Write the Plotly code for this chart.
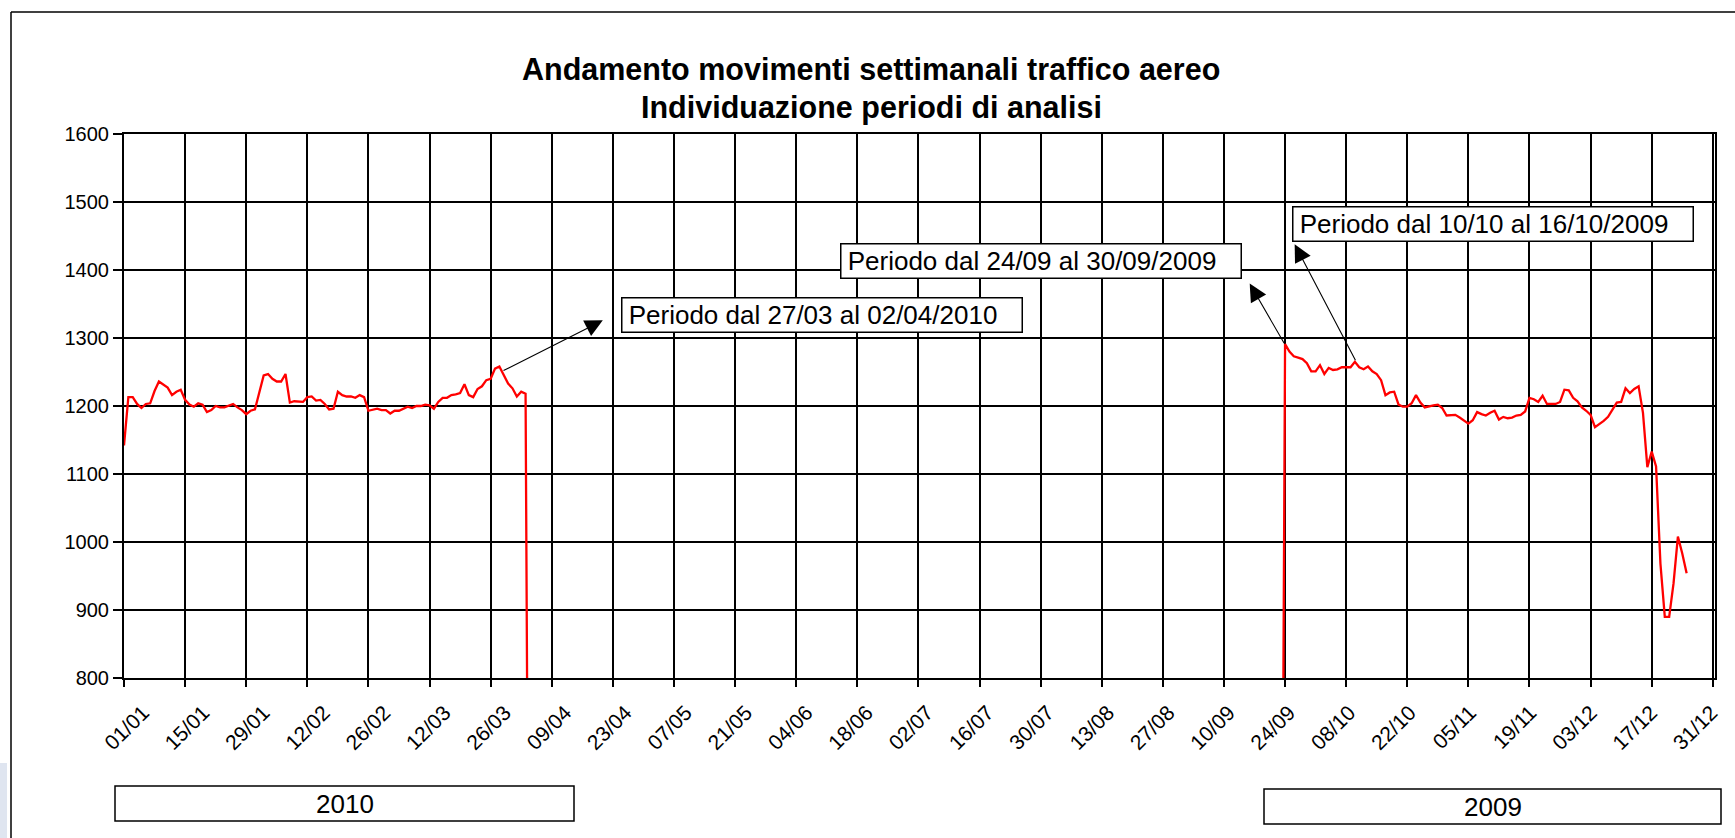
import plotly.graph_objects as go

# ---------------- data ----------------
# x axis: day of the year (0 = 01/01), ticks every 14 days
tick_labels = ["01/01", "15/01", "29/01", "12/02", "26/02", "12/03", "26/03", "09/04",
               "23/04", "07/05", "21/05", "04/06", "18/06", "02/07", "16/07", "30/07",
               "13/08", "27/08", "10/09", "24/09", "08/10", "22/10", "05/11", "19/11",
               "03/12", "17/12", "31/12"]
tick_days = [14 * i for i in range(len(tick_labels))]

# 2010 weekly movements, daily from 01/01 (last value = series drop)
start_2010 = 0
vals_2010 = [1142, 1213, 1213, 1203, 1197, 1203, 1204, 1222, 1236, 1231,
             1227, 1216, 1221, 1224, 1209, 1202, 1199, 1204, 1202, 1191,
             1194, 1200, 1198, 1198, 1201, 1203, 1198, 1194, 1188, 1193,
             1195, 1222, 1245, 1247, 1240, 1236, 1236, 1247, 1205, 1207,
             1207, 1206, 1213, 1214, 1208, 1209, 1203, 1195, 1196, 1221,
             1216, 1214, 1214, 1212, 1216, 1213, 1193, 1195, 1196, 1194,
             1194, 1189, 1193, 1193, 1196, 1199, 1197, 1200, 1200, 1202,
             1201, 1196, 1206, 1212, 1212, 1216, 1217, 1219, 1232, 1216,
             1213, 1225, 1229, 1238, 1240, 1255, 1258, 1245, 1233, 1226,
             1214, 1221, 1218, 0]

# 2009 weekly movements, daily from 23/09 (first value = series start jump)
start_2009 = 265
vals_2009 = [0, 1291, 1280, 1273, 1271, 1269, 1263, 1251, 1251, 1260, 1247,
             1256, 1253, 1254, 1257, 1257, 1257, 1265, 1257, 1254, 1258,
             1251, 1247, 1238, 1216, 1220, 1221, 1202, 1199, 1199, 1204,
             1216, 1205, 1198, 1200, 1201, 1202, 1197, 1186, 1186, 1187,
             1183, 1179, 1174, 1179, 1191, 1188, 1186, 1190, 1193, 1180,
             1184, 1182, 1183, 1186, 1187, 1192, 1212, 1210, 1206, 1215,
             1203, 1203, 1203, 1206, 1224, 1223, 1212, 1207, 1198, 1193,
             1187, 1169, 1173, 1178, 1184, 1195, 1205, 1206, 1226, 1219,
             1225, 1229, 1190, 1110, 1133, 1111, 968, 890, 890, 939,
             1008, 983, 954]

title_lines = ["Andamento movimenti settimanali traffico aereo",
               "Individuazione periodi di analisi"]
notes = ["Periodo dal 27/03 al 02/04/2010",
         "Periodo dal 24/09 al 30/09/2009",
         "Periodo dal 10/10 al 16/10/2009"]
year_labels = ["2010", "2009"]

x_2010 = [start_2010 + i for i in range(len(vals_2010))]
x_2009 = [start_2009 + i for i in range(len(vals_2009))]

# ---------------- figure ----------------
W, H = 1735, 838
ML, MR, MT, MB = 124, 20, 134, 160
PW = W - ML - MR
PH = H - MT - MB


def px(xp):
    return (xp - ML) / PW


def py(yp):
    return (H - MB - yp) / PH


FONT = "Arial, Liberation Sans, sans-serif"

fig = go.Figure()
for xs, ys in ((x_2010, vals_2010), (x_2009, vals_2009)):
    fig.add_trace(go.Scatter(x=xs, y=ys, mode="lines",
                             line=dict(color="#ff0000", width=2.3),
                             hoverinfo="skip", showlegend=False))
# empty helper trace so that the label-only axis is drawn
fig.add_trace(go.Scatter(x=[tick_days[0], tick_days[-1]], y=[None, None],
                         xaxis="x2", yaxis="y", mode="markers",
                         marker=dict(opacity=0), hoverinfo="skip",
                         showlegend=False))

fig.update_layout(
    width=W, height=H, autosize=False,
    margin=dict(l=ML, r=MR, t=MT, b=MB, pad=0),
    paper_bgcolor="white", plot_bgcolor="white",
    font=dict(family=FONT, color="black"),
    showlegend=False,
    # label-only axis: the scanned labels sit slightly compressed vs the grid
    xaxis2=dict(overlaying="x", anchor="y", side="bottom", range=[-4.41, 364.84],
                tickmode="array", tickvals=tick_days, ticktext=tick_labels,
                tickangle=-45, tickfont=dict(size=21, family=FONT, color="black"),
                ticks="outside", ticklen=13, tickcolor="rgba(0,0,0,0)",
                ticklabeloverflow="allow", automargin=False,
                showgrid=False, zeroline=False, showline=False, fixedrange=True),
    xaxis=dict(range=[0, 364.5], tickmode="array", tickvals=tick_days,
               showticklabels=False, automargin=False,
               showgrid=True, gridcolor="black", gridwidth=2,
               ticks="outside", ticklen=7, tickwidth=1.6, tickcolor="black",
               showline=True, mirror=True, linecolor="black", linewidth=2,
               zeroline=False),
    yaxis=dict(range=[800, 1600], tickmode="linear", tick0=800, dtick=100,
               tickfont=dict(size=20, family=FONT, color="black"),
               automargin=False,
               showgrid=True, gridcolor="black", gridwidth=2,
               ticks="outside", ticklen=9, tickwidth=1.6, tickcolor="black",
               showline=True, mirror=True, linecolor="black", linewidth=2,
               zeroline=False),
)

# title (two lines)
fig.add_annotation(text="<b>" + title_lines[0] + "</b>", xref="paper", yref="paper",
                   x=px(871), y=py(69), xanchor="center", yanchor="middle",
                   showarrow=False, font=dict(size=30.5, family=FONT, color="black"))
fig.add_annotation(text="<b>" + title_lines[1] + "</b>", xref="paper", yref="paper",
                   x=px(871), y=py(107), xanchor="center", yanchor="middle",
                   showarrow=False, font=dict(size=30.5, family=FONT, color="black"))

# text boxes (top-left corner in data units)
box_pos = [(113.9, 1361.0), (164.0, 1439.0), (267.6, 1493.5)]
for txt, (bx, by) in zip(notes, box_pos):
    fig.add_annotation(text="\u2009" + txt, xref="x", yref="y", x=bx, y=by,
                       xanchor="left", yanchor="top", showarrow=False,
                       align="left", width=397, height=31,
                       bgcolor="white", bordercolor="black", borderwidth=1.5,
                       borderpad=1, font=dict(size=26, family=FONT, color="black"))

# arrows: head near box, tail on the curve
arrows = [((109.7, 1326.0), (86.6, 1251.0)),
          ((257.9, 1380.0), (266.0, 1290.0)),
          ((268.2, 1438.0), (282.3, 1265.0))]
for (hx, hy), (tx, ty) in arrows:
    fig.add_annotation(text="", x=hx, y=hy, ax=tx, ay=ty,
                       xref="x", yref="y", axref="x", ayref="y",
                       showarrow=True, arrowhead=2, arrowsize=3.2,
                       arrowwidth=1.1, arrowcolor="black", standoff=0,
                       startstandoff=0)

# year boxes below the axis
year_boxes = [(115, 574, 786, 821), (1264, 1721, 789, 824)]
for lab, (x0, x1, y0, y1) in zip(year_labels, year_boxes):
    fig.add_shape(type="rect", xref="paper", yref="paper",
                  x0=px(x0), x1=px(x1), y0=py(y1), y1=py(y0),
                  line=dict(color="black", width=1.5), fillcolor="white")
    fig.add_annotation(text=lab, xref="paper", yref="paper",
                       x=px((x0 + x1) / 2), y=py((y0 + y1) / 2),
                       xanchor="center", yanchor="middle", showarrow=False,
                       font=dict(size=26, family=FONT, color="black"))

# outer frame of the chart (top and left edges visible)
fig.add_shape(type="line", xref="paper", yref="paper",
              x0=px(11), x1=px(1900), y0=py(12), y1=py(12),
              line=dict(color="black", width=1.5))
fig.add_shape(type="line", xref="paper", yref="paper",
              x0=px(11), x1=px(11), y0=py(12), y1=py(1000),
              line=dict(color="black", width=1.5))
# light strip at the bottom-left edge
fig.add_shape(type="rect", xref="paper", yref="paper",
              x0=px(0), x1=px(7), y0=py(838), y1=py(763),
              line=dict(width=0), fillcolor="#dfe5f0")

fig.write_html("out.html", config={"displayModeBar": False},
               post_script="document.body.style.margin='0';document.body.style.overflow='hidden';")
